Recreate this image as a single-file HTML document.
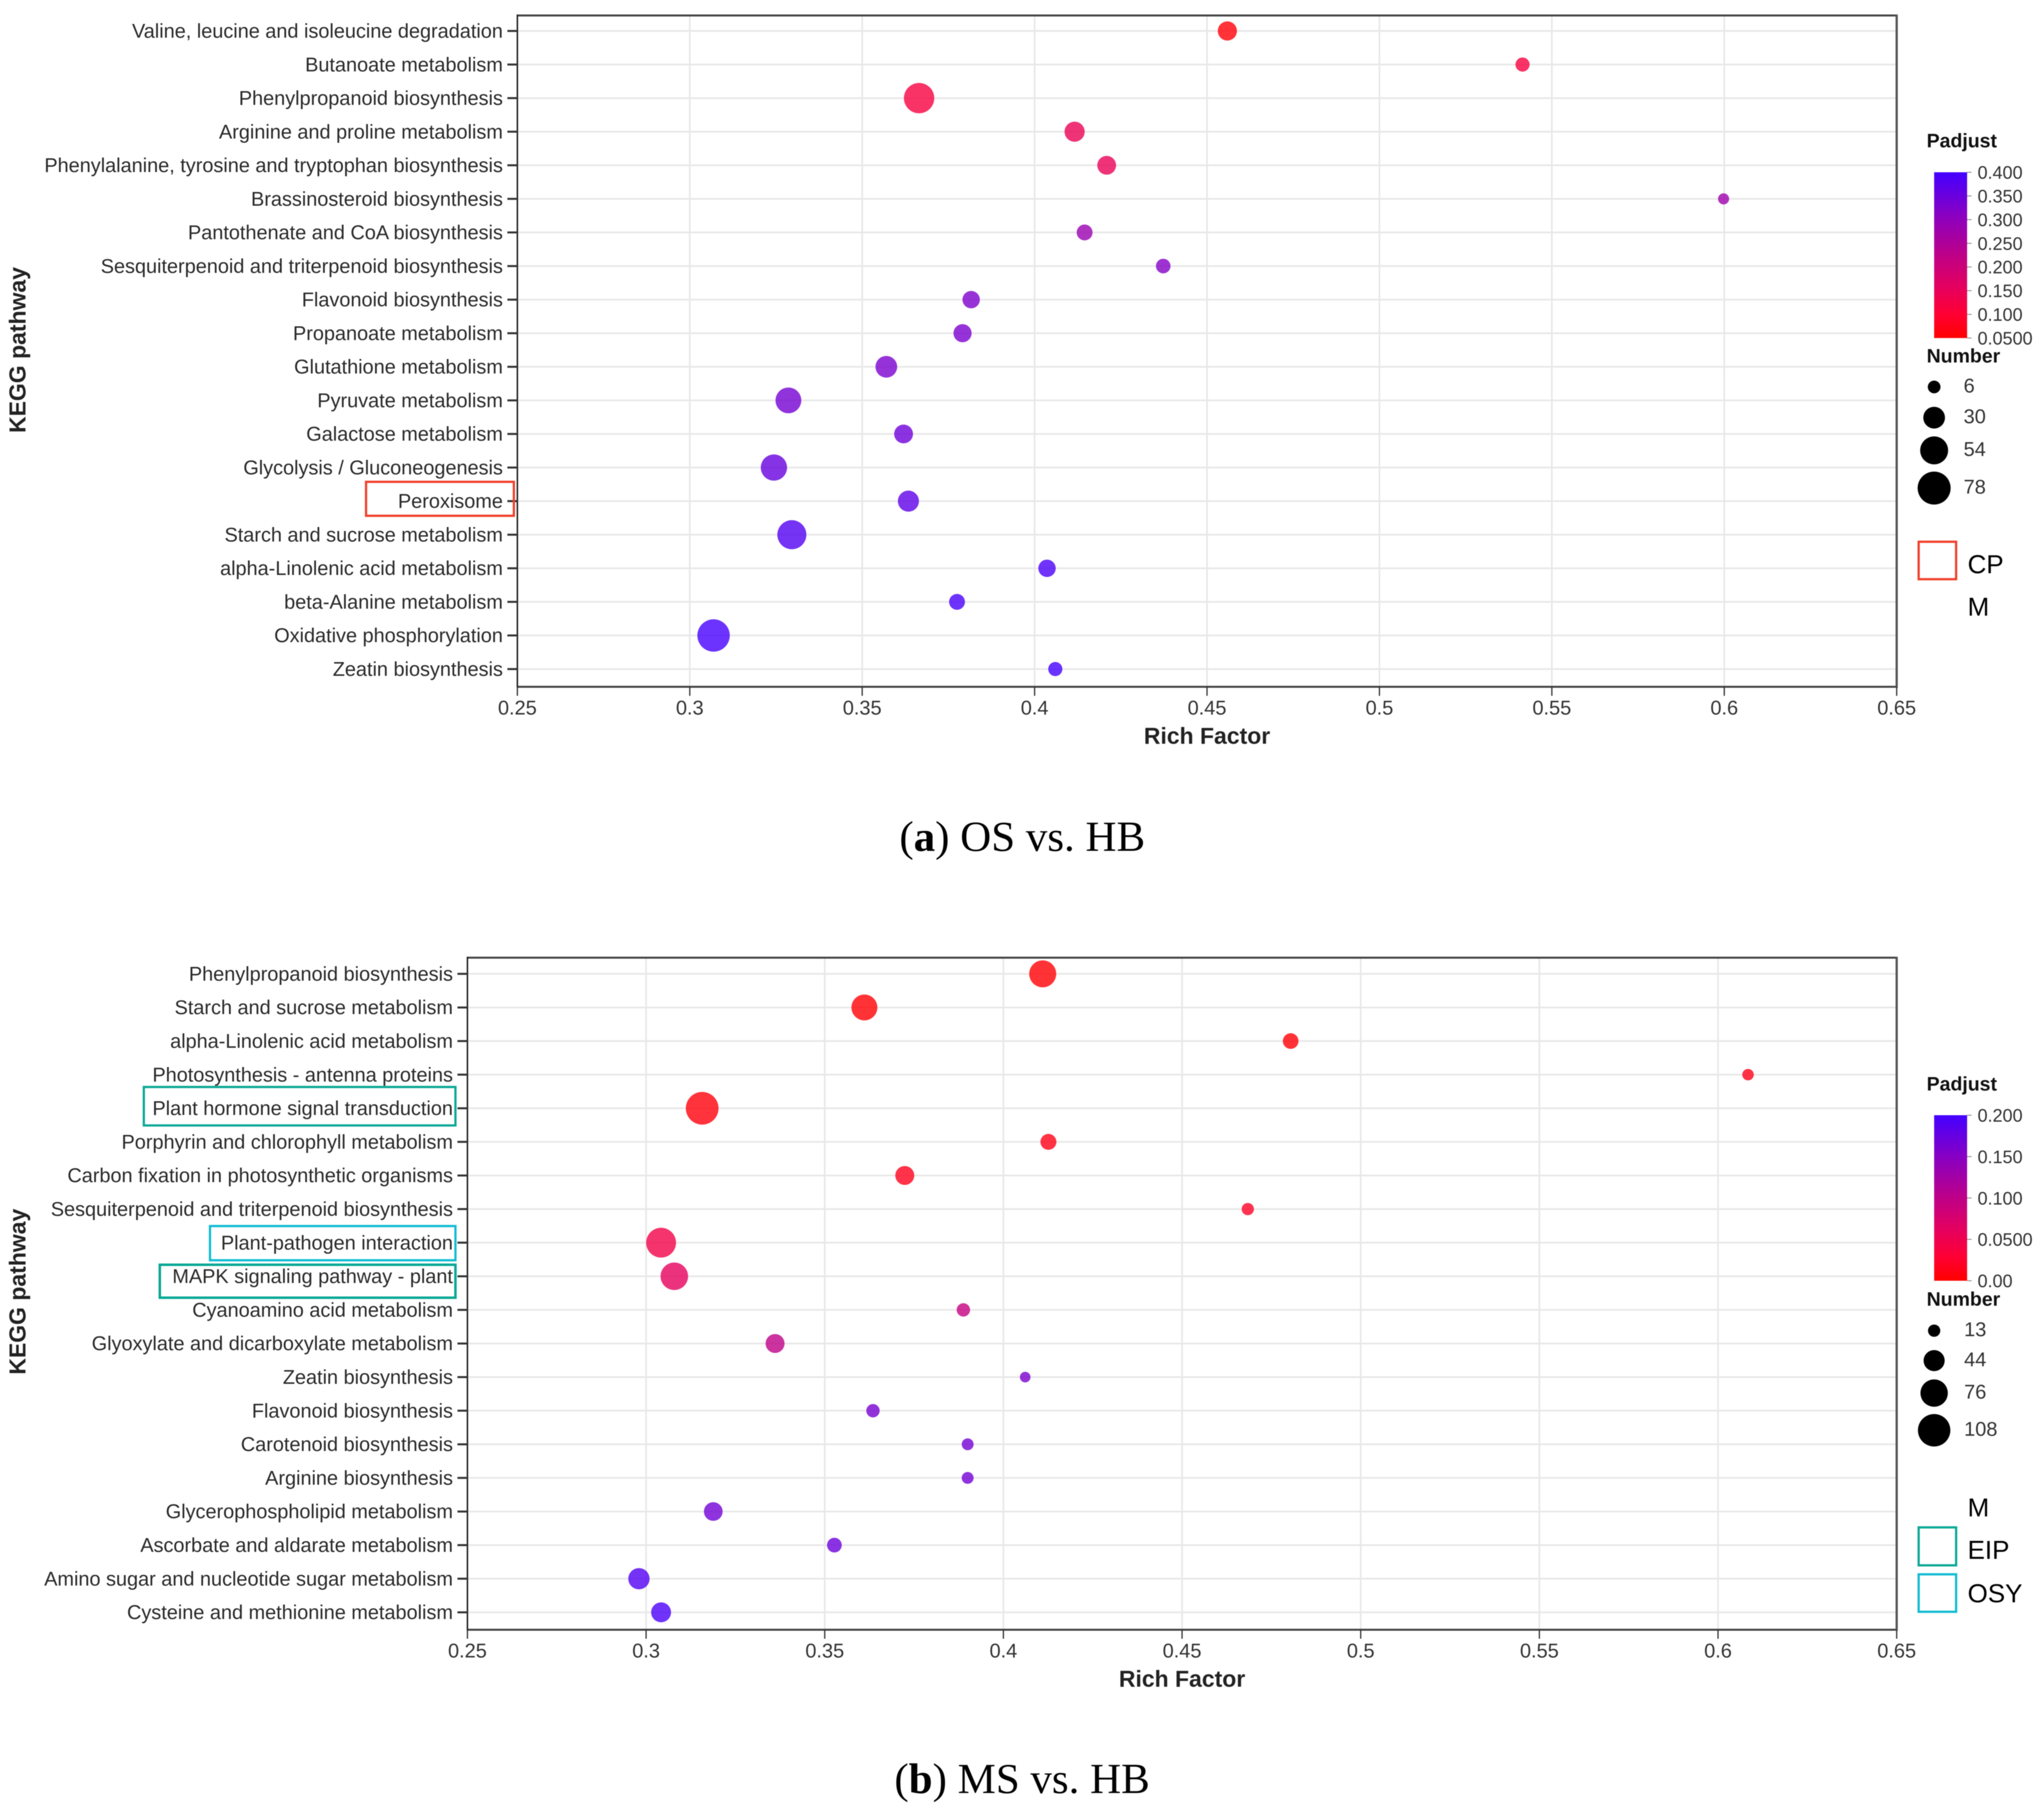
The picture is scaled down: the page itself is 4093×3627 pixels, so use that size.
<!DOCTYPE html>
<html lang="en">
<head>
<meta charset="utf-8">
<title>KEGG enrichment bubble charts</title>
<style>
html,body{margin:0;padding:0;background:#fff}
svg{display:block;filter:blur(0.8px)}
text{font-family:"Liberation Sans",sans-serif}
.cap{font-family:"Liberation Serif",serif;font-size:86px;fill:#000}
.atitle{font-weight:bold;font-size:46px;fill:#222}
.ltitle{font-weight:bold;font-size:39px;fill:#111}
.ann{font-size:52px;fill:#000}
</style>
</head>
<body>
<svg id="figure" xmlns="http://www.w3.org/2000/svg" width="4093" height="3627" viewBox="0 0 4093 3627">
  <rect width="4093" height="3627" fill="#fff"/>
  <defs>
    <linearGradient id="bar-gradient" x1="0" y1="1" x2="0" y2="0"></linearGradient>
  </defs>
  <g id="panel-a"></g>
  <g id="panel-b"></g>

  <rect x="733" y="965" width="296" height="68" fill="none" stroke="#f0402a" stroke-width="4.5"/>
  <rect x="288" y="2177" width="624" height="77" fill="none" stroke="#0aa896" stroke-width="4.5"/>
  <rect x="420.5" y="2455.5" width="491.5" height="68.5" fill="none" stroke="#10bcd4" stroke-width="4.5"/>
  <rect x="320" y="2533" width="592" height="66" fill="none" stroke="#0aa896" stroke-width="5"/>

  <rect x="3842" y="1085" width="75" height="75" fill="none" stroke="#f0402a" stroke-width="4.5"/>
  <text class="ann" x="3940" y="1148">CP</text>
  <text class="ann" x="3940" y="1233">M</text>

  <text class="ann" x="3940" y="3037">M</text>
  <rect x="3842" y="3059" width="75" height="76" fill="none" stroke="#0aa896" stroke-width="4.5"/>
  <text class="ann" x="3940" y="3122">EIP</text>
  <rect x="3842" y="3153" width="75" height="75" fill="none" stroke="#10bcd4" stroke-width="4.5"/>
  <text class="ann" x="3940" y="3209">OSY</text>

  <text class="cap" x="1801" y="1704">(<tspan font-weight="bold">a</tspan>) OS vs. HB</text>
  <text class="cap" x="1791" y="3591">(<tspan font-weight="bold">b</tspan>) MS vs. HB</text>
</svg>

<script>
// ---------- shared axis data ----------
const xTickValues = [0.25, 0.3, 0.35, 0.4, 0.45, 0.5, 0.55, 0.6, 0.65];
const xTickLabels = ["0.25", "0.3", "0.35", "0.4", "0.45", "0.5", "0.55", "0.6", "0.65"];

// ---------- panel (a) OS vs. HB ----------
const categoriesA = [
  "Valine, leucine and isoleucine degradation", "Butanoate metabolism", "Phenylpropanoid biosynthesis",
  "Arginine and proline metabolism", "Phenylalanine, tyrosine and tryptophan biosynthesis",
  "Brassinosteroid biosynthesis", "Pantothenate and CoA biosynthesis",
  "Sesquiterpenoid and triterpenoid biosynthesis", "Flavonoid biosynthesis", "Propanoate metabolism",
  "Glutathione metabolism", "Pyruvate metabolism", "Galactose metabolism", "Glycolysis / Gluconeogenesis",
  "Peroxisome", "Starch and sucrose metabolism", "alpha-Linolenic acid metabolism", "beta-Alanine metabolism",
  "Oxidative phosphorylation", "Zeatin biosynthesis"
];
const richFactorA = [0.4559, 0.5415, 0.3665, 0.4116, 0.4209, 0.5998, 0.4145, 0.4373, 0.3816, 0.3791,
                     0.3570, 0.3286, 0.3620, 0.3244, 0.3634, 0.3296, 0.4036, 0.3775, 0.3069, 0.4060];
const numberA = [22, 9, 65, 25, 21, 3, 13, 10, 17, 19, 30, 45, 21, 47, 28, 59, 17, 13, 75, 9];
const padjustA = [0.056, 0.116, 0.118, 0.145, 0.147, 0.278, 0.285, 0.316, 0.325, 0.328,
                  0.330, 0.335, 0.344, 0.354, 0.365, 0.380, 0.390, 0.393, 0.397, 0.399];
const colorTicksA = [0.4, 0.35, 0.3, 0.25, 0.2, 0.15, 0.1, 0.05];
const colorLabelsA = ["0.400", "0.350", "0.300", "0.250", "0.200", "0.150", "0.100", "0.0500"];
const sizeLegendA = [6, 30, 54, 78];

// ---------- panel (b) MS vs. HB ----------
const categoriesB = [
  "Phenylpropanoid biosynthesis", "Starch and sucrose metabolism", "alpha-Linolenic acid metabolism",
  "Photosynthesis - antenna proteins", "Plant hormone signal transduction", "Porphyrin and chlorophyll metabolism",
  "Carbon fixation in photosynthetic organisms", "Sesquiterpenoid and triterpenoid biosynthesis",
  "Plant-pathogen interaction", "MAPK signaling pathway - plant", "Cyanoamino acid metabolism",
  "Glyoxylate and dicarboxylate metabolism", "Zeatin biosynthesis", "Flavonoid biosynthesis",
  "Carotenoid biosynthesis", "Arginine biosynthesis", "Glycerophospholipid metabolism",
  "Ascorbate and aldarate metabolism", "Amino sugar and nucleotide sugar metabolism",
  "Cysteine and methionine metabolism"
];
const richFactorB = [0.4110, 0.3611, 0.4804, 0.6084, 0.3157, 0.4126, 0.3724, 0.4684, 0.3042, 0.3079,
                     0.3888, 0.3361, 0.4061, 0.3635, 0.3900, 0.3900, 0.3188, 0.3527, 0.2980, 0.3042];
const numberB = [74, 68, 23, 11, 110, 24, 35, 13, 91, 77, 16, 35, 9, 16, 12, 12, 34, 20, 45, 39];
const padjustB = [0.001, 0.002, 0.003, 0.012, 0.006, 0.012, 0.015, 0.020, 0.044, 0.060,
                  0.094, 0.100, 0.160, 0.162, 0.164, 0.165, 0.166, 0.170, 0.190, 0.195];
const colorTicksB = [0.2, 0.15, 0.1, 0.05, 0];
const colorLabelsB = ["0.200", "0.150", "0.100", "0.0500", "0.00"];
const sizeLegendB = [13, 44, 76, 108];

// ---------- colour ramp (red -> blue, perceptual-looking) ----------
const rampT = [0, 0.14, 0.29, 0.5, 0.75, 1];
const rampR = [255, 255, 232, 190, 135, 68];
const rampB = [0, 50, 90, 135, 195, 255];
function rampColor(t) {
  t = Math.max(0, Math.min(1, t));
  let i = 0;
  while (i < rampT.length - 2 && t > rampT[i + 1]) i++;
  const f = (t - rampT[i]) / (rampT[i + 1] - rampT[i]);
  const r = rampR[i] + (rampR[i + 1] - rampR[i]) * f;
  const b = rampB[i] + (rampB[i + 1] - rampB[i]) * f;
  return "rgb(" + Math.round(r) + ",0," + Math.round(b) + ")";
}

const NS = "http://www.w3.org/2000/svg";
function mk(parent, tag, attrs, name, text) {
  const el = document.createElementNS(NS, tag);
  for (const k in attrs) el.setAttribute(k, attrs[k]);
  
  
  if (text !== undefined) el.textContent = text;
  parent.appendChild(el);
  return el;
}

const gradient = document.getElementById("bar-gradient");
rampT.forEach(function (t) {
  const s = document.createElementNS(NS, "stop");
  s.setAttribute("offset", t);
  s.setAttribute("stop-color", rampColor(t));
  gradient.appendChild(s);
});

function drawPanel(cfg) {
  const g = document.getElementById(cfg.id);
  const xScale = v => cfg.left + (v - 0.25) / 0.4 * (cfg.right - cfg.left);
  const yScale = i => cfg.firstRow + i * cfg.rowStep;
  const rScale = n => Math.sqrt(cfg.rA + cfg.rB * n);
  const cScale = p => (p - cfg.cMin) / (cfg.cMax - cfg.cMin);

  // gridlines
  xTickValues.forEach(function (v, i) {
    mk(g, "line", {x1: xScale(v), x2: xScale(v), y1: cfg.top, y2: cfg.bottom, stroke: "#e6e6e6", "stroke-width": 3}, "x-gridline-" + xTickLabels[i]);
  });
  cfg.categories.forEach(function (c, i) {
    mk(g, "line", {x1: cfg.left, x2: cfg.right, y1: yScale(i), y2: yScale(i), stroke: "#e8e8e8", "stroke-width": 3.5}, "y-gridline-" + i);
  });

  // frame
  mk(g, "line", {x1: cfg.left, x2: cfg.right, y1: cfg.top, y2: cfg.top, stroke: "#444", "stroke-width": 4}, "top-axis-line");
  mk(g, "line", {x1: cfg.left, x2: cfg.right, y1: cfg.bottom, y2: cfg.bottom, stroke: "#444", "stroke-width": 4}, "x-axis-line");
  mk(g, "line", {x1: cfg.left, x2: cfg.left, y1: cfg.top - 2, y2: cfg.bottom + 2, stroke: "#222", "stroke-width": 3}, "y-axis-line");
  mk(g, "line", {x1: cfg.right, x2: cfg.right, y1: cfg.top - 2, y2: cfg.bottom + 2, stroke: "#555", "stroke-width": 4.5}, "right-axis-line");

  // x ticks and labels
  xTickValues.forEach(function (v, i) {
    mk(g, "line", {x1: xScale(v), x2: xScale(v), y1: cfg.bottom, y2: cfg.bottom + 18, stroke: "#333", "stroke-width": 2.5}, "x-tick-" + xTickLabels[i]);
    mk(g, "text", {x: xScale(v), y: cfg.bottom + 55.5, "text-anchor": "middle", "font-size": 40, fill: "#333"}, "x-tick-label-" + xTickLabels[i], xTickLabels[i]);
  });

  // y ticks and labels
  cfg.categories.forEach(function (c, i) {
    mk(g, "line", {x1: cfg.left - 20, x2: cfg.left, y1: yScale(i), y2: yScale(i), stroke: "#333", "stroke-width": 4}, "y-tick-" + i);
    mk(g, "text", {x: cfg.left - 29, y: yScale(i) + 13.5, "text-anchor": "end", "font-size": 39.8, fill: "#2a2a2a"}, "y-tick-label-" + i, c);
  });

  // bubbles
  cfg.categories.forEach(function (c, i) {
    mk(g, "circle", {cx: xScale(cfg.rich[i]), cy: yScale(i), r: rScale(cfg.number[i]), fill: rampColor(cScale(cfg.padj[i])), "fill-opacity": 0.8}, "bubble-" + i);
  });

  // axis titles
  mk(g, "text", {class: "atitle", x: (cfg.left + cfg.right) / 2, y: cfg.bottom + 114, "text-anchor": "middle"}, "x-axis-title", "Rich Factor");
  mk(g, "text", {class: "atitle", x: 0, y: 0, "text-anchor": "middle", transform: "translate(51," + cfg.yTitle + ") rotate(-90)"}, "y-axis-title", "KEGG pathway");

  // colour legend
  mk(g, "text", {class: "ltitle", x: 3858, y: cfg.padTitleY + 14}, "padjust-legend-title", "Padjust");
  mk(g, "rect", {x: 3873, y: cfg.barTop, width: 66, height: cfg.barBottom - cfg.barTop, fill: "url(#bar-gradient)"}, "padjust-color-bar");
  const barY = v => cfg.barBottom - (v - cfg.cMin) / (cfg.cMax - cfg.cMin) * (cfg.barBottom - cfg.barTop);
  cfg.colorTicks.forEach(function (v, i) {
    mk(g, "line", {x1: 3939, x2: 3948, y1: barY(v), y2: barY(v), stroke: "#777", "stroke-width": 1.5}, "padjust-tick-" + i);
    mk(g, "text", {x: 3960, y: barY(v) + 13, "font-size": 36, fill: "#333"}, "padjust-tick-label-" + i, cfg.colorLabels[i]);
  });

  // size legend
  mk(g, "text", {class: "ltitle", x: 3858, y: cfg.numTitleY + 14}, "number-legend-title", "Number");
  cfg.sizeLegend.forEach(function (n, i) {
    mk(g, "circle", {cx: 3873, cy: cfg.sizeY[i], r: rScale(n), fill: "#000"}, "number-legend-dot-" + n);
    mk(g, "text", {x: cfg.sizeLabelX, y: cfg.sizeY[i] + 11, "font-size": 40, fill: "#333"}, "number-legend-label-" + n, String(n));
  });
}

drawPanel({
  id: "panel-a", left: 1036, right: 3798, top: 31, bottom: 1375.5, firstRow: 62, rowStep: 67.26,
  categories: categoriesA, rich: richFactorA, number: numberA, padj: padjustA,
  rA: 85, rB: 12.9, cMin: 0.05, cMax: 0.4, yTitle: 701,
  padTitleY: 281, numTitleY: 712, barTop: 345, barBottom: 677,
  colorTicks: colorTicksA, colorLabels: colorLabelsA, sizeLegend: sizeLegendA,
  sizeY: [775, 836.5, 902, 977.5], sizeLabelX: 3932
});
drawPanel({
  id: "panel-b", left: 936, right: 3798, top: 1918, bottom: 3264, firstRow: 1950.4, rowStep: 67.3,
  categories: categoriesB, rich: richFactorB, number: numberB, padj: padjustB,
  rA: 28, rB: 9.5, cMin: 0, cMax: 0.2, yTitle: 2587,
  padTitleY: 2170, numTitleY: 2601, barTop: 2233.5, barBottom: 2565,
  colorTicks: colorTicksB, colorLabels: colorLabelsB, sizeLegend: sizeLegendB,
  sizeY: [2665, 2725, 2790, 2864.5], sizeLabelX: 3933
});
</script>
</body>
</html>
